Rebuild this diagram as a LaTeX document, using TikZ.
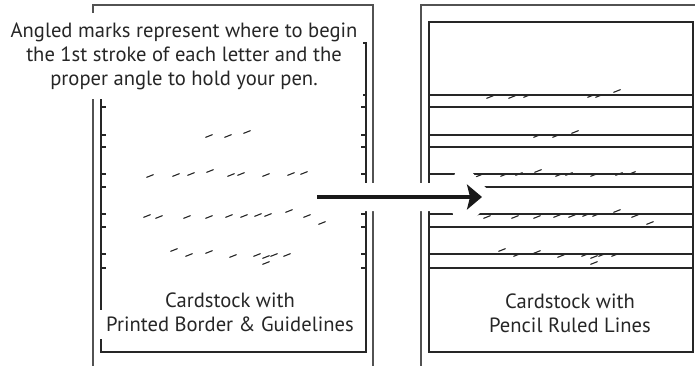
\documentclass[tikz,border=0pt]{standalone}
\usepackage{fontspec}
\setmainfont{PT Sans}
\usetikzlibrary{arrows.meta}

% guideline heights and pen-angle marks (left card positions)
\newcommand\guideYs{95,107,135,147,174,187,214,227,254,268}
\newcommand\markPts{162/97, 184/97, 199/96, 263/96, 271/96, 289/91,
  209/136, 228/136, 247/132,
  150/176, 176/175, 191/174, 210/171, 231/175, 241/174, 266/175, 291/174, 304/173,
  147/216, 159/217, 187/217, 209/217, 229/216, 244/216, 258/215, 268/215, 289/211, 307/216, 322/223,
  174/250, 189/255, 209/252, 233/256, 257/255, 266/257, 274/255, 287/255, 266/263}

\begin{document}
\begin{tikzpicture}[
  x=1pt, y=-1pt,
  outline/.style = {draw=black!68, line width=2pt},
  inbox/.style   = {draw=black!85, line width=2pt},
  rule/.style    = {draw=black!85, line width=1.3pt},
  tick/.style    = {draw=black!85, line width=1.3pt},
  penmark/.style = {draw=black!85, line width=1.1pt, line cap=round},
  caption/.style = {font=\fontsize{20.6}{24}\selectfont, text=black!85, align=center},
  halo/.style    = {fill=white, rounded corners=2pt},
  arr/.style     = {-{Stealth[length=15pt, width=25pt, inset=3pt]}, line width=4pt, black!90},
]
\clip (0,0) rectangle (695,366);

%% ── Left card: printed border & guidelines ─────────────────────────
\draw[outline] (93,372) -- (93,5) -- (373,5) -- (373,372);
\draw[inbox] (101,43) rectangle (366,352);
\foreach \y in \guideYs {
  \draw[tick] (101,\y) -- (106,\y);
  \draw[tick] (366,\y) -- (361,\y);
}
\foreach \mx/\my in \markPts
  \draw[penmark] (\mx-3.3,\my+1.3) -- (\mx+3.3,\my-1.3);

\node[caption, fill=white, minimum width=358pt, inner ysep=9.5pt] (note) at (184,56)
  {Angled marks represent where to begin\\the 1st stroke of each letter and the\\proper angle to hold your pen.};
\node[caption] (leftcap) at (230,316)
  {Cardstock with\\{\fboxsep=7pt\colorbox{white}{Printed Border \& Guidelines}}};

%% ── Right card: pencil ruled lines ─────────────────────────────────
\draw[outline] (421,372) -- (421,5) -- (700,5) -- (700,372);
\draw[inbox] (429,22) rectangle (693,352);
\foreach \y in \guideYs
  \draw[rule] (429,\y) -- (693,\y);
\begin{scope}[xshift=328pt]
  \foreach \mx/\my in \markPts
    \draw[penmark] (\mx-3.3,\my+1.3) -- (\mx+3.3,\my-1.3);
\end{scope}
\node[caption] (rightcap) at (570,313) {Cardstock with\\Pencil Ruled Lines};

%% ── Arrow between the cards ────────────────────────────────────────
\coordinate (arrS) at (317,197);
\coordinate (arrE) at (482,197);
\fill[halo, shift={(arrE)}] (-172,-14) -- (-30,-14) -- (-26,-27) -- (-12,-27) -- (12,0)
  -- (-12,27) -- (-26,27) -- (-30,14) -- (-172,14) -- cycle;
\draw[arr] (arrS) -- (arrE);

\end{tikzpicture}
\end{document}
